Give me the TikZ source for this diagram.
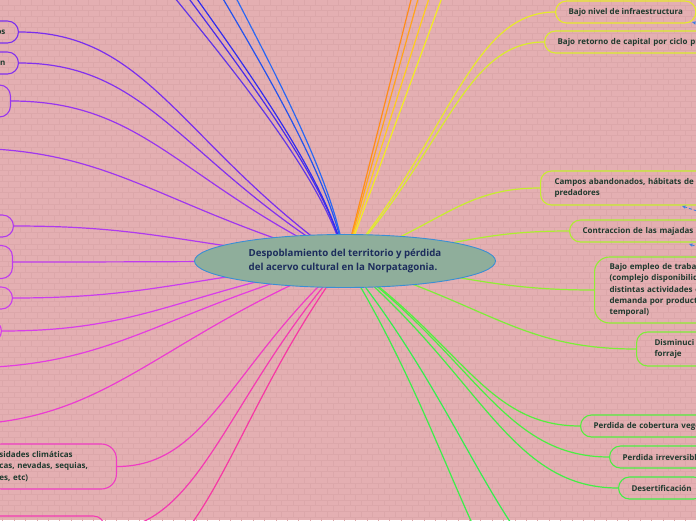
\documentclass[tikz,border=0pt]{standalone}
\usepackage{fontspec}
\setmainfont{Open Sans}
\usetikzlibrary{arrows.meta, calc, shapes.geometric, patterns}
\definecolor{mmpink}{HTML}{E4AFB2}
\definecolor{mmbrick}{HTML}{DCA7AA}
\definecolor{corefill}{HTML}{8FAE9B}
\definecolor{coreline}{HTML}{3A8ED4}
\definecolor{coretext}{HTML}{1C2C5C}
\definecolor{leaftext}{HTML}{1F3A2E}
\definecolor{relblue}{HTML}{3C7FE0}
% top branches
\definecolor{cT1}{HTML}{6236E6}
\definecolor{cT2}{HTML}{4A2CEA}
\definecolor{cT3}{HTML}{302CF0}
\definecolor{cT4}{HTML}{2452EE}
\definecolor{cT5}{HTML}{2A68F4}
\definecolor{cO1}{HTML}{FF8C1A}
\definecolor{cO2}{HTML}{FFA41C}
\definecolor{cO3}{HTML}{FFCC1E}
\definecolor{cO4}{HTML}{F4EC22}
% right branches
\definecolor{cR1}{HTML}{E6EA2A}
\definecolor{cR2}{HTML}{DAEC2C}
\definecolor{cR3}{HTML}{C6EE2E}
\definecolor{cR4}{HTML}{AEEE30}
\definecolor{cR5}{HTML}{90EE34}
\definecolor{cR6}{HTML}{7CEE38}
\definecolor{cR7}{HTML}{56EE3E}
\definecolor{cR8}{HTML}{4CEE42}
\definecolor{cR9}{HTML}{44EE46}
\definecolor{cG1}{HTML}{3CEE4A}
\definecolor{cG2}{HTML}{34EE4E}
% left branches
\definecolor{cL1}{HTML}{7A2EEE}
\definecolor{cL2}{HTML}{8231EE}
\definecolor{cL3}{HTML}{9835EE}
\definecolor{cL4}{HTML}{A037EE}
\definecolor{cL5}{HTML}{B03AEE}
\definecolor{cL6}{HTML}{BE3CEE}
\definecolor{cL7}{HTML}{CA3DEE}
\definecolor{cL8}{HTML}{D83DEA}
\definecolor{cL9}{HTML}{E43DE0}
\definecolor{cL10}{HTML}{EC3CD2}
\definecolor{cL11}{HTML}{F03CC4}
\definecolor{cL12}{HTML}{F43AB2}
\definecolor{cL13}{HTML}{F638A4}
\pgfdeclarelayer{paper}
\pgfdeclarelayer{links}
\pgfsetlayers{paper,links,main}
\tikzset{
  leaf/.style={draw, rounded corners=11pt, line width=1.1pt, minimum height=22pt,
               inner xsep=13pt, inner ysep=3pt, text=leaftext,
               font=\fontsize{8}{11.25}\selectfont\bfseries},
  core/.style={ellipse, draw=coreline, fill=corefill, line width=.9pt,
               minimum width=301pt, minimum height=53pt, inner sep=0pt, align=left,
               text=coretext, font=\fontsize{9.7}{14}\selectfont\bfseries},
  link/.style={line width=1.2pt},
  branch/.style={to path={.. controls ($(\tikztostart)!.5!(\tikztotarget)$)
                 and ($(\tikztotarget)!.4!(\tikztostart |- \tikztotarget)$) .. (\tikztotarget)}},
  rel/.style={densely dashed, line width=.8pt, relblue, -{Stealth[length=4pt, width=3.5pt]}}
}
\begin{document}
\begin{tikzpicture}[x=1pt, y=-1pt]
  \useasboundingbox (0,0) rectangle (696,520);
  \begin{pgfonlayer}{paper}
    \fill[mmpink] (0,0) rectangle (696,520);
    \fill[pattern=bricks, pattern color=mmbrick] (0,0) rectangle (696,520);
  \end{pgfonlayer}
  % central topic
  \node[core] (core) at (345,261) {Despoblamiento del territorio y pérdida\\del acervo cultural en la Norpatagonia.};
  % right side
  \node[leaf, draw=cR1, anchor=west] (r1) at (555,12) {Bajo nivel de infraestructura};
  \node[leaf, draw=cR2, anchor=west, text width=180pt] (r2) at (544,42) {Bajo retorno de capital por ciclo pro};
  \node[leaf, draw=cR3, anchor=west, text width=180pt, minimum height=34pt, inner xsep=14pt] (r3) at (540,188) {Campos abandonados, hábitats de\\predadores};
  \node[leaf, draw=cR4, anchor=west, text width=180pt] (r4) at (569,231) {Contraccion de las majadas};
  \node[leaf, draw=cR5, anchor=west, text width=180pt, minimum height=66pt, rounded corners=15pt, inner xsep=15pt] (r5) at (594,290) {Bajo empleo de trabaj\\(complejo disponibilid\\distintas actividades c\\demanda por product\\temporal)};
  \node[leaf, draw=cR6, anchor=west, text width=180pt, minimum height=34pt, inner xsep=18pt] (r6) at (636,349) {Disminuci\\forraje};
  \node[leaf, draw=cR7, anchor=west, text width=180pt] (r7) at (580,426) {Perdida de cobertura vege};
  \node[leaf, draw=cR8, anchor=west, text width=180pt] (r8) at (609,457) {Perdida irreversibl};
  \node[leaf, draw=cR9, anchor=west] (r9) at (618,488) {Desertificación};
  % left side
  \node[leaf, draw=cL1, anchor=east, text width=120pt, align=right] (l1) at (19,32) {os};
  \node[leaf, draw=cL2, anchor=east, text width=120pt, align=right] (l2) at (19,63) {n};
  \node[leaf, draw=cL3, anchor=east, minimum width=120pt, minimum height=32pt] (l3) at (11,101) {};
  \node[leaf, draw=cL5, anchor=east, minimum width=120pt] (l5) at (14,226) {};
  \node[leaf, draw=cL6, anchor=east, minimum width=120pt, minimum height=33pt] (l6) at (13,262) {};
  \node[leaf, draw=cL7, anchor=east, minimum width=120pt] (l7) at (13,298) {};
  \node[leaf, draw=cL8, anchor=east, minimum width=120pt] (l8) at (2,331) {};
  \node[leaf, draw=cL11, anchor=east, text width=104pt, align=left, minimum height=45pt, rounded corners=15pt] (l11) at (117,466.5) {sidades climáticas\\cas, nevadas, sequias,\\es, etc)};
  \node[leaf, draw=cL12, anchor=east, minimum width=150pt, minimum height=28pt] (l12) at (105,530) {};
  % branches leaving the page
  \coordinate (l4) at (-40,148);
  \coordinate (l9) at (-40,368);
  \coordinate (l10) at (-50,425);
  \coordinate (l13) at (115,572);
  \coordinate (g1) at (580,640);
  \coordinate (g2) at (620,600);
  \begin{pgfonlayer}{links}
    \foreach \n/\cl in {r1/cR1, r2/cR2, r3/cR3, r4/cR4, r5/cR5, r6/cR6, r7/cR7, r8/cR8, r9/cR9}
      \draw[link, color=\cl] (core.center) to[branch] (\n.west);
    \foreach \n/\cl in {l1/cL1, l2/cL2, l3/cL3, l5/cL5, l6/cL6, l7/cL7, l8/cL8, l11/cL11, l12/cL12}
      \draw[link, color=\cl] (core.center) to[branch] (\n.east);
    \foreach \n/\cl in {l4/cL4, l9/cL9, l10/cL10, l13/cL13, g1/cG1, g2/cG2}
      \draw[link, color=\cl] (core.center) to[branch] (\n);
    % upward fan
    \foreach \i/\ex/\ca/\cb in {1/170/329/250, 2/184/331/257, 3/192/331/262, 4/219/334/277, 5/233/336/284}{
      \coordinate (t\i) at (\ex,-8);
      \draw[link, color=cT\i] (core.center) .. controls (\ca,190) and (\cb,90) .. (t\i);
    }
    \foreach \i/\ex in {1/413, 2/420, 3/431, 4/444}{
      \coordinate (o\i) at (\ex,-8);
      \draw[link, color=cO\i] (core.center) -- (o\i);
    }
  \end{pgfonlayer}
  % relation arrows coming in from the right
  \coordinate (ra) at (706,26);
  \coordinate (rb) at (706,214);
  \coordinate (rc) at (704,249);
  \draw[rel] (ra) -- (692,22);
  \draw[rel] (rb) -- (682,206);
  \draw[rel] (rc) -- (689,244);
\end{tikzpicture}
\end{document}
